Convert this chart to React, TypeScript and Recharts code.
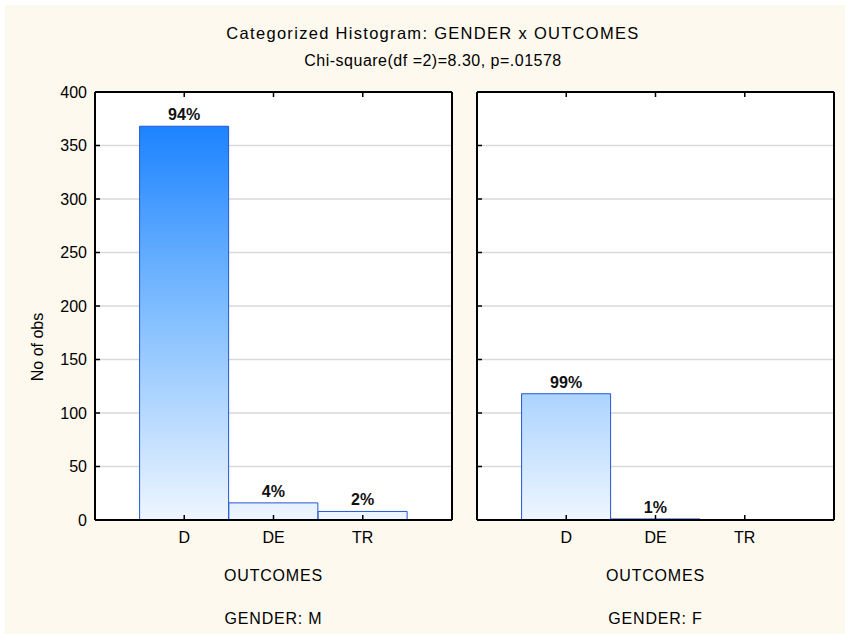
import React from 'react';
import { BarChart, Bar, XAxis, YAxis, CartesianGrid, LabelList } from 'recharts';

const categories = ['D', 'DE', 'TR'];
const countsM = [368, 16, 8];
const countsF = [118, 1, 0];
const yTicks = [0, 50, 100, 150, 200, 250, 300, 350, 400];
const panelTitles = ['GENDER: M', 'GENDER: F'];
const chartTitle = 'Categorized Histogram: GENDER x OUTCOMES';
const chartSubtitle = 'Chi-square(df =2)=8.30, p=.01578';
const xAxisTitle = 'OUTCOMES';
const yAxisTitle = 'No of obs';

const FONT = '"Liberation Sans", Arial, Helvetica, sans-serif';
const AXIS = { stroke: '#000', strokeWidth: 2 };
const TICKLINE = { stroke: '#000', strokeWidth: 1.5 };

function buildData(counts: number[]) {
  const total = counts.reduce((a, b) => a + b, 0);
  return categories.map((c, i) => ({
    cat: c,
    n: counts[i],
    pct: counts[i] > 0 ? `${Math.round((counts[i] / total) * 100)}%` : '',
  }));
}

type PanelProps = {
  counts: number[];
  width: number;
  yAxisWidth: number;
  marginRight: number;
  showYLabels: boolean;
  gradId: string;
};

function Panel({ counts, width, yAxisWidth, marginRight, showYLabels, gradId }: PanelProps) {
  const data = buildData(counts);
  const pad = { left: 44.6, right: 44.6 };
  return (
    <BarChart
      width={width}
      height={634}
      data={data}
      margin={{ top: 91, right: marginRight, bottom: 84, left: 0 }}
      barCategoryGap={0}
      barGap={0}
    >
      <defs>
        <linearGradient id={gradId} gradientUnits="userSpaceOnUse" x1="0" y1="92" x2="0" y2="520">
          <stop offset="0" stopColor="#0a78ff" />
          <stop offset="0.5" stopColor="#7dbcff" />
          <stop offset="1" stopColor="#eef6ff" />
        </linearGradient>
      </defs>
      <CartesianGrid vertical={false} stroke="#d9d9d9" strokeWidth={1.5} fill="#ffffff" />
      <XAxis
        dataKey="cat"
        xAxisId={0}
        height={30}
        padding={pad}
        interval={0}
        axisLine={AXIS}
        tickLine={TICKLINE}
        tickSize={-5}
        tickMargin={17}
        tick={{ fill: '#000', fontSize: 16, fontFamily: FONT }}
      />
      <XAxis
        dataKey="cat"
        xAxisId="top"
        orientation="top"
        height={1}
        padding={pad}
        interval={0}
        axisLine={AXIS}
        tickLine={TICKLINE}
        tickSize={-5}
        tickFormatter={() => ''}
      />
      <YAxis
        yAxisId={0}
        domain={[0, 400]}
        ticks={yTicks}
        width={yAxisWidth}
        interval={0}
        axisLine={AXIS}
        tickLine={TICKLINE}
        tickSize={-5}
        tickMargin={13}
        tickFormatter={showYLabels ? undefined : () => ''}
        tick={{ fill: '#000', fontSize: 16, fontFamily: FONT }}
      />
      <YAxis
        yAxisId="right"
        orientation="right"
        domain={[0, 400]}
        ticks={yTicks}
        width={1}
        interval={0}
        axisLine={AXIS}
        tickLine={TICKLINE}
        tickSize={-5}
        tickFormatter={() => ''}
      />
      <Bar
        dataKey="n"
        xAxisId={0}
        yAxisId={0}
        fill={`url(#${gradId})`}
        stroke="#2456d3"
        strokeWidth={1}
        isAnimationActive={false}
      >
        <LabelList
          dataKey="pct"
          position="top"
          offset={6}
          fill="#111"
          fontSize={16}
          fontWeight="bold"
          fontFamily={FONT}
        />
      </Bar>
    </BarChart>
  );
}

const textBase: React.CSSProperties = {
  position: 'absolute',
  fontFamily: FONT,
  fontSize: 16,
  color: '#000',
  lineHeight: 1,
  whiteSpace: 'nowrap',
  transform: 'translate(-50%, -50%)',
};

export default function App() {
  return (
    <div style={{ position: 'absolute', left: 0, top: 0, width: 845, height: 634, background: '#ffffff', overflow: 'hidden' }}>
      <div style={{ position: 'absolute', left: 5, top: 5, width: 840, height: 629, background: '#fdf9ee' }} />
      <div style={{ position: 'absolute', left: 0, top: 0 }}>
        <Panel counts={countsM} width={453} yAxisWidth={95} marginRight={0} showYLabels gradId="gradM" />
      </div>
      <div style={{ position: 'absolute', left: 453, top: 0 }}>
        <Panel counts={countsF} width={392} yAxisWidth={24} marginRight={10} showYLabels={false} gradId="gradF" />
      </div>
      <div style={{ ...textBase, left: 433, top: 33, fontSize: 16.5, letterSpacing: 1.3 }}>{chartTitle}</div>
      <div style={{ ...textBase, left: 433, top: 61, letterSpacing: 0.5 }}>{chartSubtitle}</div>
      <div style={{ ...textBase, left: 38, top: 347, transform: 'translate(-50%, -50%) rotate(-90deg)' }}>{yAxisTitle}</div>
      <div style={{ ...textBase, left: 273.5, top: 576, letterSpacing: 0.8 }}>{xAxisTitle}</div>
      <div style={{ ...textBase, left: 655.5, top: 576, letterSpacing: 0.8 }}>{xAxisTitle}</div>
      <div style={{ ...textBase, left: 273.5, top: 619, letterSpacing: 0.8 }}>{panelTitles[0]}</div>
      <div style={{ ...textBase, left: 655.5, top: 619, letterSpacing: 0.8 }}>{panelTitles[1]}</div>
    </div>
  );
}
